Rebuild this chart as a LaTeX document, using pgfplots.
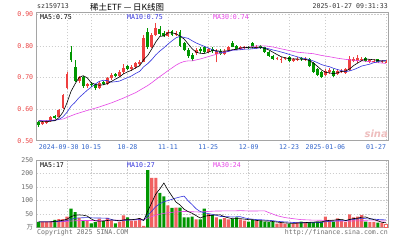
\documentclass[border=0pt]{standalone}
\usepackage{fontspec}
\usepackage{pgfplots}
\pgfplotsset{compat=1.18}
\usepackage{pgfplotstable}
\newfontfamily\mono{DejaVu Sans Mono}
\newfontfamily\cjk{Noto Sans CJK SC}
\newfontfamily\sansf{DejaVu Sans}
\definecolor{upc}{RGB}{238,64,64}
\definecolor{dnc}{RGB}{0,150,0}
\definecolor{vupc}{RGB}{240,96,96}
\definecolor{ma10c}{RGB}{51,51,221}
\definecolor{ma30c}{RGB}{230,70,230}
\definecolor{pricelab}{RGB}{235,70,70}
\definecolor{datelab}{RGB}{51,102,204}
\definecolor{gridc}{RGB}{205,205,205}
\definecolor{borderc}{RGB}{165,165,165}
\definecolor{voltext}{RGB}{110,110,110}

% candles: x low high bottom-of-body top-of-body
\pgfplotstableread{
x lo hi bot top
1 .549 .561 .552 .558
2 .553 .566 .557 .562
3 .560 .578 .563 .575
5 .574 .600 .576 .597
6 .600 .648 .603 .645
7 .664 .718 .667 .710
10 .684 .706 .690 .700
12 .666 .684 .672 .678
15 .662 .688 .666 .684
17 .677 .700 .680 .697
18 .693 .713 .697 .708
20 .702 .725 .705 .718
21 .712 .742 .718 .730
23 .722 .739 .728 .733
24 .728 .750 .733 .745
25 .736 .756 .742 .750
26 .748 .834 .750 .826
28 .792 .842 .797 .835
29 .830 .872 .835 .857
32 .829 .850 .832 .845
34 .832 .848 .835 .842
39 .770 .793 .776 .788
42 .779 .794 .782 .790
44 .748 .790 .775 .785
46 .770 .789 .773 .785
47 .783 .801 .786 .797
50 .786 .799 .790 .795
51 .790 .801 .793 .797
54 .791 .802 .794 .798
59 .754 .766 .758 .762
60 .746 .764 .755 .760
61 .754 .766 .758 .762
63 .749 .761 .752 .757
64 .752 .764 .755 .760
66 .752 .764 .755 .760
71 .705 .727 .708 .722
72 .712 .729 .716 .725
74 .708 .726 .712 .722
75 .714 .727 .718 .722
76 .711 .731 .715 .727
77 .720 .767 .724 .760
78 .748 .764 .752 .758
79 .747 .772 .751 .762
80 .751 .765 .755 .760
82 .747 .759 .750 .755
83 .746 .757 .749 .752
85 .746 .756 .748 .752
86 .746 .754 .748 .750
}\upcandles

\pgfplotstableread{
x lo hi bot top
0 .543 .563 .550 .560
4 .568 .581 .572 .577
8 .750 .800 .756 .780
9 .685 .756 .690 .733
11 .668 .704 .672 .700
13 .670 .685 .675 .680
14 .660 .680 .668 .675
16 .675 .690 .680 .685
19 .700 .714 .705 .710
22 .724 .740 .728 .735
27 .790 .858 .795 .845
30 .832 .862 .838 .853
31 .828 .848 .832 .842
33 .831 .851 .835 .846
35 .797 .850 .800 .845
36 .783 .812 .787 .808
37 .763 .792 .768 .788
38 .752 .778 .757 .772
40 .779 .795 .783 .790
41 .778 .799 .782 .795
43 .779 .795 .783 .791
45 .772 .789 .775 .785
48 .795 .816 .798 .810
49 .786 .803 .790 .800
52 .789 .801 .792 .798
53 .793 .812 .796 .808
55 .790 .803 .794 .799
56 .777 .798 .780 .795
57 .765 .785 .768 .782
58 .756 .771 .760 .768
62 .750 .768 .753 .765
65 .753 .765 .757 .762
67 .732 .762 .735 .760
68 .714 .748 .718 .745
69 .704 .731 .708 .728
70 .697 .720 .700 .716
73 .700 .726 .705 .722
81 .749 .765 .752 .762
84 .747 .760 .750 .757
}\dncandles

\pgfplotstableread{
x v
1 20
2 20
3 22
5 30
6 30
7 40
10 35
12 25
15 32
17 35
18 25
20 20
21 44
23 25
24 25
25 34
26 5
28 184
29 184
32 81
34 73
39 29
42 50
44 37
46 34
47 29
50 29
51 25
54 24
59 14
60 16
61 14
63 14
64 19
66 19
71 40
72 28
74 33
75 25
76 19
77 48
78 37
79 40
80 45
82 19
83 19
85 16
}\volup

\pgfplotstableread{
x v
0 20
4 28
8 69
9 56
11 25
13 15
14 19
16 25
19 15
22 37
27 212
30 128
31 115
33 72
35 73
36 37
37 37
38 40
40 29
41 69
43 46
45 29
48 31
49 37
52 21
53 28
55 24
56 21
57 19
58 19
62 14
65 21
67 19
68 19
69 21
70 21
73 21
81 21
84 17
}\voldn

\pgfplotstableread{
x v
86 13
}\vollast

\pgfplotsset{
  sina/.style={
    scale only axis, xmin=-0.5, xmax=86.5,
    axis line style={draw=borderc, line width=0.6pt},
    tick style={draw=none},
    xtick={7,13,22,32,42,52,62,71,86},
    grid=major,
    major grid style={draw=gridc, dash pattern=on 1.5pt off 1.5pt, line width=0.5pt},
    axis on top=false,
  },
  wick/.style={draw=none, mark=none, forget plot,
    error bars/.cd, y dir=plus, y explicit, error mark=none,
    error bar style={draw=#1, line width=0.7pt}},
  body/.style={draw=none, mark=none, forget plot,
    error bars/.cd, y dir=plus, y explicit, error mark=none,
    error bar style={draw=#1, line width=2.9pt}},
}
\newcommand{\lab}{\fontsize{6.6}{7}\selectfont\mono}

\begin{document}
\begin{tikzpicture}
\path[use as bounding box, fill=white] (0,0) rectangle (420bp,240bp);

% ---------------- price panel ----------------
\begin{axis}[sina,
  at={(36.7bp,99.3bp)}, anchor=south west,
  width=351.3bp, height=128bp,
  ymin=0.5, ymax=0.905,
  ytick={0.5,0.6,0.7,0.8,0.9},
  yticklabel style={font=\lab, text=pricelab,
    /pgf/number format/fixed, /pgf/number format/fixed zerofill,
    /pgf/number format/precision=2, /pgf/number format/assume math mode=true},
  xticklabels={\makebox[0pt][r]{2024-09-30\hspace*{-11.5bp}},10-15,10-28,11-11,11-25,12-09,12-23,2025-01-06,\makebox[0pt][r]{01-27}},
  xticklabel style={font=\lab, text=datelab},
]
\addplot[wick=upc] table[x=x, y=lo, y error expr=\thisrow{hi}-\thisrow{lo}] {\upcandles};
\addplot[wick=dnc] table[x=x, y=lo, y error expr=\thisrow{hi}-\thisrow{lo}] {\dncandles};
\addplot[body=upc] table[x=x, y=bot, y error expr=\thisrow{top}-\thisrow{bot}] {\upcandles};
\addplot[body=dnc] table[x=x, y=bot, y error expr=\thisrow{top}-\thisrow{bot}] {\dncandles};

% MA30
\addplot[ma30c, line width=0.6pt, mark=none] coordinates {
(0,.5645)(3,.5645)(6,.5685)(9,.5838)(12,.5957)(15,.6067)(18,.6197)(21,.635)(24,.652)(27,.6746)(28,.6836)(29,.6933)(30,.7029)(31,.712)(32,.7215)(33,.7301)(34,.7391)(35,.7459)(36,.7506)(37,.7526)(38,.7526)(40,.7586)(42,.766)(44,.7735)(46,.780)(48,.7864)(50,.7918)(52,.7962)(54,.800)(56,.800)(58,.7966)(60,.7908)(62,.7854)(64,.7801)(66,.7777)(68,.7753)(70,.7699)(72,.7657)(74,.761)(76,.7573)(78,.7548)(80,.7527)(82,.7499)(84,.7469)(86,.7445)};
% MA10
\addplot[ma10c, line width=0.6pt, mark=none] coordinates {
(0,.5635)(1,.5628)(2,.5625)(3,.5635)(4,.5642)(5,.5674)(6,.5754)(7,.5899)(8,.609)(9,.6215)(10,.6364)(11,.6479)(12,.6595)(13,.6695)(14,.6791)(15,.6877)(16,.6913)(17,.690)(18,.6852)(19,.6867)(20,.6885)(21,.6943)(22,.6993)(23,.7051)(24,.7128)(25,.7194)(26,.734)(27,.7438)(28,.7565)(29,.7717)(30,.7837)(31,.7939)(32,.8056)(33,.8158)(34,.8255)(35,.8305)(36,.8266)(37,.8239)(38,.8161)(39,.8092)(40,.8037)(41,.7987)(42,.7932)(43,.788)(44,.7823)(45,.7798)(46,.7796)(47,.7825)(48,.7866)(49,.7868)(50,.788)(51,.7895)(52,.7897)(53,.791)(54,.7923)(55,.7942)(56,.7937)(57,.7908)(58,.787)(59,.7842)(60,.7807)(61,.7772)(62,.7733)(63,.7694)(64,.7656)(65,.7619)(66,.7599)(67,.7566)(68,.7524)(69,.747)(70,.741)(71,.737)(72,.7342)(73,.729)(74,.7252)(75,.7217)(76,.7184)(77,.7209)(78,.7249)(79,.7303)(80,.7363)(81,.7393)(82,.7423)(83,.747)(84,.7498)(85,.7528)(86,.7541)};
% MA5
\addplot[black, line width=0.6pt, mark=none] coordinates {
(0,.562)(1,.5606)(2,.560)(3,.562)(4,.5634)(5,.5728)(6,.5902)(7,.6198)(8,.656)(9,.6796)(10,.700)(11,.7056)(12,.6992)(13,.683)(14,.6786)(15,.6754)(16,.677)(17,.6808)(18,.6874)(19,.6948)(20,.7016)(21,.7116)(22,.7178)(23,.7228)(24,.7308)(25,.7372)(26,.7564)(27,.7698)(28,.7902)(29,.8126)(30,.8302)(31,.8314)(32,.8414)(33,.8414)(34,.8384)(35,.8308)(36,.8218)(37,.8064)(38,.7908)(39,.780)(40,.7766)(41,.7756)(42,.780)(43,.7852)(44,.7846)(45,.783)(46,.7836)(47,.785)(48,.788)(49,.789)(50,.793)(51,.7954)(52,.7944)(53,.794)(54,.7956)(55,.7954)(56,.792)(57,.7872)(58,.780)(59,.7728)(60,.766)(61,.7624)(62,.7594)(63,.7588)(64,.7584)(65,.7578)(66,.7574)(67,.7538)(68,.746)(69,.7356)(70,.7242)(71,.7166)(72,.7146)(73,.712)(74,.7148)(75,.7192)(76,.7202)(77,.7272)(78,.7378)(79,.7458)(80,.7534)(81,.7584)(82,.7574)(83,.7562)(84,.7538)(85,.7522)(86,.7518)};
\end{axis}

% ---------------- volume panel ----------------
\begin{axis}[sina,
  at={(36.7bp,12.7bp)}, anchor=south west,
  width=351.3bp, height=67.3bp,
  ymin=0, ymax=250,
  ytick={0,50,100,150,200,250},
  yticklabels={{\cjk 万},50,100,150,200,250},
  yticklabel style={font=\lab, text=voltext},
  xticklabels={},
]
\addplot[ybar, bar width=3.1bp, bar shift=0pt, fill=vupc, draw=none, forget plot] table[x=x, y=v] {\volup};
\addplot[ybar, bar width=3.1bp, bar shift=0pt, fill=dnc, draw=none, forget plot] table[x=x, y=v] {\voldn};
\addplot[ybar, bar width=2.6bp, bar shift=0pt, fill=white, draw=vupc, line width=0.5pt, forget plot] table[x=x, y=v] {\vollast};
% MA30
\addplot[ma30c, line width=0.6pt, mark=none] coordinates {
(0,20)(2,20)(4,20.3)(6,21)(8,23.3)(10,25)(12,25.3)(14,25.1)(16,25.7)(18,26.4)(20,26.2)(22,27.6)(24,27.9)(26,27.9)(27,34.3)(28,39.7)(29,45.2)(30,48.8)(31,52)(32,54)(34,57.2)(36,58.8)(38,57.8)(40,56.7)(42,59)(44,60.6)(46,60.8)(48,60.8)(50,61.8)(52,60.7)(54,60.7)(56,60.9)(57,54.5)(58,49)(59,43.3)(60,39.6)(61,36.2)(62,34)(63,32.1)(64,30.3)(65,28.5)(66,27.9)(68,26.6)(70,26.1)(72,24.4)(74,23.4)(76,22.8)(78,23.6)(80,24.3)(82,24.1)(84,23.5)(86,23.6)};
% MA10
\addplot[ma10c, line width=0.6pt, mark=none] coordinates {
(0,20)(1,20)(2,20)(3,20.2)(4,21)(5,22)(6,23)(7,25)(8,29.9)(9,33.5)(10,35)(11,35.5)(12,36)(13,35.3)(14,34.4)(15,34.6)(16,34.1)(17,33.6)(18,29.2)(19,25.1)(20,23.6)(21,25.5)(22,26.7)(23,27.7)(24,28.3)(25,28.5)(26,26.5)(27,44.2)(28,60.1)(29,77)(30,87.8)(31,94.9)(32,99.3)(33,104)(34,108.8)(35,112.7)(36,115.9)(37,98.4)(38,84)(39,68.5)(40,58.6)(41,54)(42,50.9)(43,48.3)(44,44.7)(45,40.3)(46,40)(47,39.2)(48,38.3)(49,39.1)(50,39.1)(51,34.7)(52,31.8)(53,30)(54,28.7)(55,28.2)(56,26.9)(57,25.9)(58,24.7)(59,22.4)(60,21.1)(61,20)(62,19.3)(63,17.9)(64,17.4)(65,17.1)(66,16.9)(67,16.9)(68,16.9)(69,17.6)(70,18.1)(71,20.7)(72,22.1)(73,22.8)(74,24.2)(75,24.6)(76,24.6)(77,27.5)(78,29.3)(79,31.2)(80,33.6)(81,31.7)(82,30.8)(83,30.6)(84,29)(85,28.1)(86,27.5)};
% MA5
\addplot[black, line width=0.6pt, mark=none] coordinates {
(0,20)(1,20)(2,20)(3,20.4)(4,22)(5,24)(6,26)(7,30)(8,39.4)(9,45)(10,46)(11,45)(12,42)(13,31.2)(14,23.8)(15,23.2)(16,23.2)(17,25.2)(18,27.2)(19,26.4)(20,24)(21,27.8)(22,28.2)(23,28.2)(24,30.2)(25,33)(26,25.2)(27,60.2)(28,92)(29,123.8)(30,142.6)(31,164.6)(32,138.4)(33,116)(34,93.8)(35,82.8)(36,67.2)(37,58.4)(38,52)(39,43.2)(40,34.4)(41,40.8)(42,43.4)(43,44.6)(44,46.2)(45,46.2)(46,39.2)(47,35)(48,32)(49,32)(50,32)(51,30.2)(52,28.6)(53,28)(54,25.4)(55,24.4)(56,23.6)(57,23.2)(58,21.4)(59,19.4)(60,17.8)(61,16.4)(62,15.4)(63,14.4)(64,15.4)(65,16.4)(66,17.4)(67,18.4)(68,19.4)(69,19.8)(70,19.8)(71,24)(72,25.8)(73,26.2)(74,28.6)(75,29.4)(76,25.2)(77,29.2)(78,32.4)(79,33.8)(80,37.8)(81,38.2)(82,32.4)(83,28.8)(84,24.2)(85,18.4)(86,16.8)};
\end{axis}

% ---------------- texts ----------------
\node[anchor=west, inner sep=0pt, text=black!80] at (37bp,234bp) {\lab sz159713};
\node[anchor=west, inner sep=0pt] at (90bp,233bp) {\fontsize{8.5}{9}\selectfont\cjk 稀土ETF — 日K线图};
\node[anchor=east, inner sep=0pt, text=black!80] at (388bp,234bp) {\lab 2025-01-27 09:31:33};
\node[anchor=west, inner sep=0pt] at (40bp,223bp) {\lab MA5:0.75};
\node[anchor=west, inner sep=0pt, text=ma10c] at (127bp,223bp) {\lab MA10:0.75};
\node[anchor=west, inner sep=0pt, text=ma30c] at (213bp,223bp) {\lab MA30:0.74};
\node[anchor=west, inner sep=0pt] at (40bp,75bp) {\lab MA5:17};
\node[anchor=west, inner sep=0pt, text=ma10c] at (127bp,75bp) {\lab MA10:27};
\node[anchor=west, inner sep=0pt, text=ma30c] at (213bp,75bp) {\lab MA30:24};
\node[anchor=west, inner sep=0pt, text=voltext] at (37bp,7.5bp) {\lab Copyright 2025 SINA.COM};
\node[anchor=east, inner sep=0pt, text=voltext] at (388bp,7.5bp) {\lab http://finance.sina.com.cn};
\node[anchor=east, inner sep=0pt, text={rgb,255:red,238;green,190;blue,190}] at (388bp,106bp) {\fontsize{10}{10}\selectfont\sansf\bfseries\itshape sina};
\end{tikzpicture}
\end{document}
